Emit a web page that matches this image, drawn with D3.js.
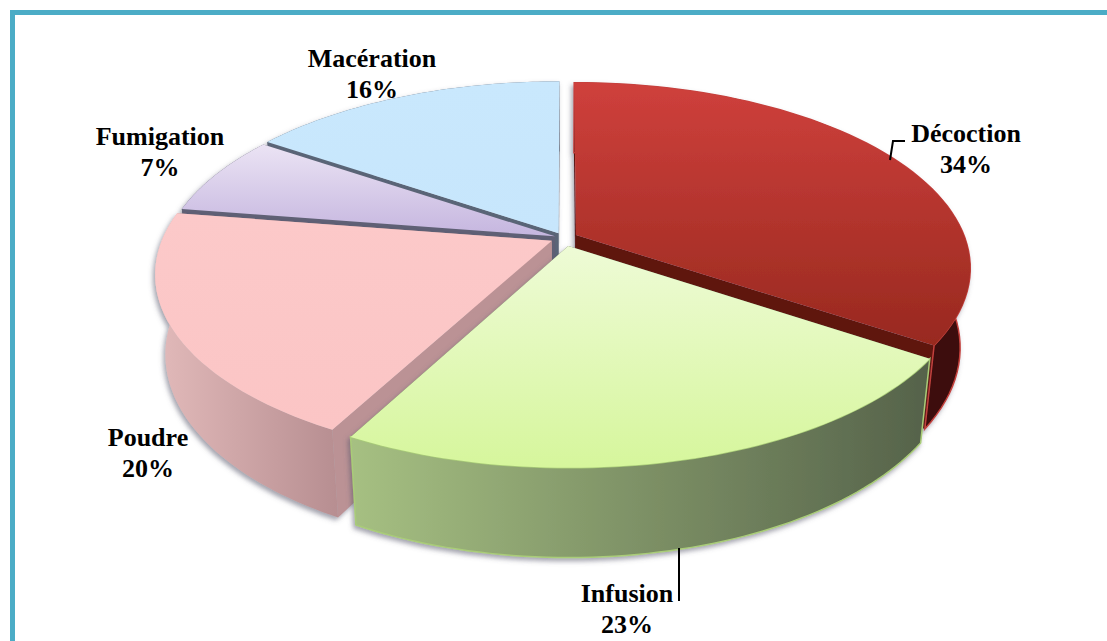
<!DOCTYPE html>
<html>
<head>
<meta charset="utf-8">
<script src="https://cdnjs.cloudflare.com/ajax/libs/d3/7.8.5/d3.min.js"></script>
<style>
  html, body { margin: 0; padding: 0; background: #fff; overflow: hidden; }
  text { font-family: "Liberation Serif", serif; font-weight: bold; font-size: 26px; fill: #000; text-anchor: middle; }
</style>
</head>
<body>
<script>
// values (the labels only give whole percents)
const categories = ['Décoction', 'Infusion', 'Poudre', 'Fumigation', 'Macération']
const percents = [34.4, 23.4, 19.7, 7.0, 15.5]
const explode = [0.035, 0.045, 0.035, 0.025, 0.03]

const width = 1107
const height = 641

// pie set up
const cx = 564
const cy = 238
const radiusX = 389
const radiusY = 180
const persp = 0.175     // front of the pie is nearer than the back
const shrink = 0.025    // bottom face is a bit smaller than top face
const depth = 78

// colours, same order as categories
const topFrom = ['#cf403c', '#eefbd6', '#fcc9c9', '#ebe3f4', '#c9e8fd']
const topTo = ['#98291f', '#d6f69c', '#fbc5c5', '#c5b6df', '#c7e6fc']
const wallFrom = ['#3c0d09', '#a6c082', '#e2baba', '#5f6074', '#5a6577']
const wallTo = ['#3c0d09', '#55624a', '#b78e91', '#5f6074', '#5a6577']
const faceColor = ['#5e1210', '#55624a', '#bb9295', '#5f6074', '#5a6577']
const edgeColor = ['#c4403c', '#a9cc78', 'none', 'none', 'none']

// paint from back to front
const drawOrder = [4, 3, 2, 0, 1]

const svg = d3.select('body').append('svg')
  .attr('width', width)
  .attr('height', height)

const defs = svg.append('defs')

function addGradient(id, horizontal, from, to) {
  const g = defs.append('linearGradient')
    .attr('id', id)
    .attr('x1', 0).attr('y1', 0)
    .attr('x2', horizontal ? 1 : 0).attr('y2', horizontal ? 0 : 1)
  g.append('stop').attr('offset', '0%').attr('stop-color', from)
  g.append('stop').attr('offset', '100%').attr('stop-color', to)
}

categories.forEach(function(c, i) {
  addGradient('top' + i, false, topFrom[i], topTo[i])
  addGradient('wall' + i, true, wallFrom[i], wallTo[i])
})

const shadow = defs.append('filter')
  .attr('id', 'shadow')
  .attr('x', '-5%').attr('y', '-5%')
  .attr('width', '110%').attr('height', '112%')
shadow.append('feDropShadow')
  .attr('dx', -2).attr('dy', 3)
  .attr('stdDeviation', 2.5)
  .attr('flood-color', '#55556a')
  .attr('flood-opacity', 0.55)

// frame
svg.append('path')
  .attr('d', 'M12.5,' + height + 'V12.5H' + width)
  .attr('fill', 'none')
  .attr('stroke', '#4bacc6')
  .attr('stroke-width', 5)

// angles come from d3.pie, clockwise from the top
const pie = d3.pie().sort(null).startAngle(0).endAngle(2 * Math.PI)
const arcs = pie(percents)

// unit disc to screen, z=0 top face, z=1 bottom face
function project(i, r, a, z) {
  const mid = (arcs[i].startAngle + arcs[i].endAngle) / 2
  const u = explode[i] * Math.sin(mid) + r * Math.sin(a)
  const v = -explode[i] * Math.cos(mid) - r * Math.cos(a)
  const s = 1 / (1 - persp * v)
  const q = 1 - shrink * z
  return [
    cx + radiusX * u * s * q,
    cy + radiusY * v * s * q + depth * z * s
  ]
}

const line = d3.line()

function rimPoints(i, z) {
  const steps = d3.range(0, 61).map(function(k) { return k / 60 })
  const angle = d3.scaleLinear().domain([0, 1]).range([arcs[i].startAngle, arcs[i].endAngle])
  return steps.map(function(t) { return project(i, 1, angle(t), z) })
}

function radialFace(i, a) {
  return line([project(i, 0, a, 0), project(i, 1, a, 0), project(i, 1, a, 1), project(i, 0, a, 1)]) + 'Z'
}

drawOrder.forEach(function(i) {
  const g = svg.append('g')
    .attr('class', 'slice')
    .attr('filter', 'url(#shadow)')

  g.append('path')
    .attr('d', radialFace(i, arcs[i].startAngle))
    .attr('fill', faceColor[i])
  g.append('path')
    .attr('d', radialFace(i, arcs[i].endAngle))
    .attr('fill', faceColor[i])

  const wall = rimPoints(i, 0).concat(rimPoints(i, 1).reverse())
  g.append('path')
    .attr('d', line(wall) + 'Z')
    .attr('fill', 'url(#wall' + i + ')')
    .attr('stroke', edgeColor[i])
    .attr('stroke-width', 1.5)

  const topFace = [project(i, 0, 0, 0)].concat(rimPoints(i, 0))
  g.append('path')
    .attr('d', line(topFace) + 'Z')
    .attr('fill', 'url(#top' + i + ')')
})

// labels
const labelX = [966, 627, 148, 160, 372]
const labelY = [142, 602, 446, 145, 67]

categories.forEach(function(c, i) {
  const t = svg.append('text')
  t.append('tspan').attr('x', labelX[i]).attr('y', labelY[i]).text(c)
  t.append('tspan').attr('x', labelX[i]).attr('y', labelY[i] + 31).text(Math.round(percents[i]) + '%')
})

// leader lines
svg.append('path')
  .attr('d', 'M890,160L893,141H905M679,548V601')
  .attr('fill', 'none')
  .attr('stroke', '#000')
  .attr('stroke-width', 2)
</script>
</body>
</html>
